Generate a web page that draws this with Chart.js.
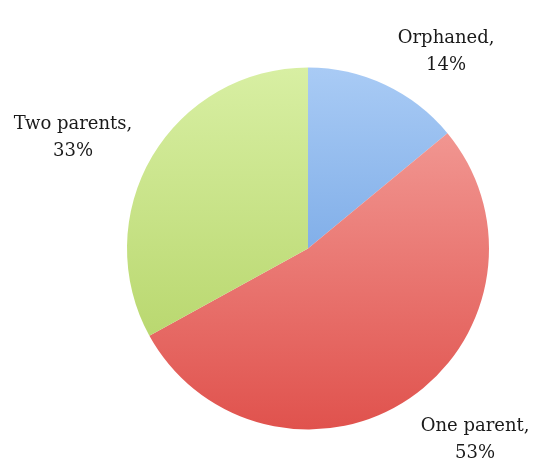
<!DOCTYPE html>
<html>
<head>
<meta charset="utf-8">
<script src="https://cdn.jsdelivr.net/npm/chart.js@4"></script>
<style>
html,body{margin:0;padding:0;background:#fff;}
#wrap{width:544px;height:469px;}
</style>
</head>
<body>
<div id="wrap"><canvas id="c" width="544" height="469"></canvas></div>
<script>
const categories = ["Orphaned", "One parent", "Two parents"];
const values = [14, 53, 33];
const labelText = ["Orphaned,|14%", "One parent,|53%", "Two parents,|33%"];

const gradStops = [
  ["#a9cbf5", "#5a93dc"],
  ["#f5a5a0", "#e0524d"],
  ["#d8efa3", "#afd05e"]
];
// label placement: distance factor from centre and angle tweak (degrees)
const labelDist = [1.327, 1.404, 1.435];
const labelAngTweak = [9.9, -6.9, -5.4];

function grad(ctx, i) {
  const ch = ctx.chart;
  const a = ch.chartArea;
  if (!a) return gradStops[i][0];
  const g = ch.ctx.createLinearGradient(0, a.top, 0, a.bottom);
  g.addColorStop(0, gradStops[i][0]);
  g.addColorStop(1, gradStops[i][1]);
  return g;
}

const labelPlugin = {
  id: 'outLabels',
  afterDatasetsDraw(chart) {
    const ctx = chart.ctx;
    const meta = chart.getDatasetMeta(0);
    ctx.save();
    ctx.font = '18px "DejaVu Serif", "Liberation Serif", serif';
    ctx.fillStyle = '#1a1a1a';
    ctx.textAlign = 'center';
    ctx.textBaseline = 'middle';
    meta.data.forEach((arc, i) => {
      const p = arc.getProps(['x','y','startAngle','endAngle','outerRadius'], true);
      const mid = (p.startAngle + p.endAngle) / 2 + labelAngTweak[i] * Math.PI / 180;
      const d = p.outerRadius * labelDist[i];
      const cx = p.x + Math.cos(mid) * d;
      const cy = p.y + Math.sin(mid) * d;
      const lines = labelText[i].split('|');
      ctx.fillText(lines[0], cx, cy - 13.5);
      ctx.fillText(lines[1], cx, cy + 13.5);
    });
    ctx.restore();
  }
};

new Chart(document.getElementById('c'), {
  type: 'pie',
  data: {
    labels: categories,
    datasets: [{
      data: values,
      backgroundColor: (ctx) => grad(ctx, ctx.dataIndex),
      borderWidth: 0
    }]
  },
  options: {
    responsive: false,
    animation: false,
    layout: { padding: { left: 127, right: 55, top: 67, bottom: 39 } },
    plugins: { legend: { display: false }, tooltip: { enabled: false } }
  },
  plugins: [labelPlugin]
});
</script>
</body>
</html>
